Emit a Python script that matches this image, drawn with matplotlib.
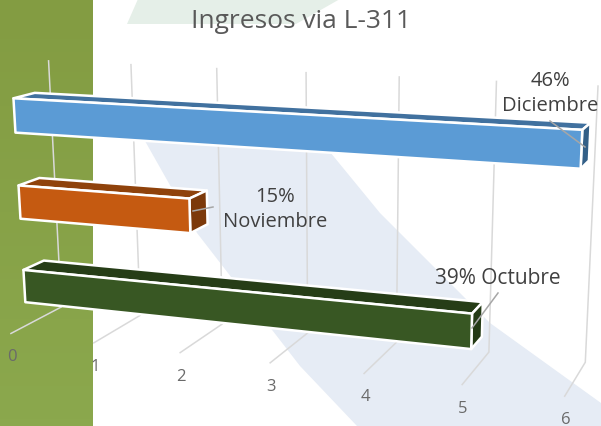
import numpy as np
import matplotlib
matplotlib.use("Agg")
import matplotlib.pyplot as plt
from matplotlib.colors import LinearSegmentedColormap
from matplotlib.patches import Polygon

categories = ["Octubre", "Noviembre", "Diciembre"]
values = [5, 2, 6]
shares = [39, 15, 46]
value_ticks = [0, 1, 2, 3, 4, 5, 6]

# pixel positions of the gridline ends, used to calibrate the 3D view
WALL_TOP = [(48, 62), (131, 66), (217, 70), (307, 74), (398, 78), (498, 82), (597, 86)]
WALL_BOTTOM = [(61, 307), (140, 316), (222, 325), (309, 335), (397, 344), (488, 352), (585, 364)]
FLOOR_FRONT = [(11, 334), (94, 344), (180, 354), (270, 364), (364, 374), (462, 386), (565, 397)]

BAR_STYLE = {
    "Octubre": dict(front="#385723", top="#263D17", side="#243A15"),
    "Noviembre": dict(front="#C55A11", top="#8F420B", side="#7C390A"),
    "Diciembre": dict(front="#5B9BD5", top="#41719F", side="#335F87"),
}
DEPTH = (0.30, 0.70)
BAR_H = 0.13
BAR_SHIFT = -0.008
FONT = "Open Sans"


def fit_camera():
    rows, rhs = [], []
    pts = []
    for v, t, b, f in zip(value_ticks, WALL_TOP, WALL_BOTTOM, FLOOR_FRONT):
        pts += [((v, 1, 1), t), ((v, 1, 0), b), ((v, 0, 0), f)]
    for (v, d, h), (x, y) in pts:
        rows.append([v, d, h, 1, 0, 0, 0, 0, -x * v, -x * d, -x * h])
        rows.append([0, 0, 0, 0, v, d, h, 1, -y * v, -y * d, -y * h])
        rhs += [x, y]
    sol = np.linalg.lstsq(np.array(rows, float), np.array(rhs, float), rcond=None)[0]
    return np.append(sol, 1.0).reshape(3, 4)


CAM = fit_camera()


def project(v, d, h):
    p = CAM @ np.array([v, d, h, 1.0])
    return p[0] / p[2], p[1] / p[2]


fig = plt.figure(figsize=(6.01, 4.27), dpi=100)
ax = fig.add_axes([0, 0, 1, 1])

# slide background
band = LinearSegmentedColormap.from_list("band", ["#839C42", "#8BA84D"])
ax.imshow(np.linspace(0, 1, 64).reshape(-1, 1), cmap=band, aspect="auto",
          extent=(0, 92.5, 427, 0), zorder=0)
ax.set_xlim(0, 601)
ax.set_ylim(427, 0)
ax.axis("off")
ax.add_patch(Polygon([(127, 25), (138, 0), (340, 0), (296, 25)], color="#E5EFE8", lw=0, zorder=0))
ax.add_patch(Polygon([(145, 142), (330, 153), (380, 214), (490, 324), (601, 404),
                      (601, 427), (357, 427), (300, 367), (197, 234)],
                     color="#E6ECF5", lw=0, zorder=0))

for v in value_ticks:
    top = project(v, 1, 1)
    bot = project(v, 1, 0)
    front = project(v, 0, 0)
    ax.plot([top[0], bot[0], front[0]], [top[1], bot[1], front[1]],
            color="#D9D9D9", lw=1.1, zorder=1, solid_joinstyle="miter")
    ax.text(front[0] + 1, front[1] + 23, str(v), ha="center", va="center",
            fontsize=12, color="#6A6A6A", family=FONT, zorder=1)

for i, (cat, val) in enumerate(zip(categories, values)):
    center = (i + 0.5) / len(categories) + BAR_SHIFT
    h0, h1 = center - BAR_H / 2, center + BAR_H / 2
    d0, d1 = DEPTH
    st = BAR_STYLE[cat]
    faces = [
        ([(0, d0, h1), (val, d0, h1), (val, d1, h1), (0, d1, h1)], st["top"]),
        ([(val, d0, h0), (val, d1, h0), (val, d1, h1), (val, d0, h1)], st["side"]),
        ([(0, d0, h0), (val, d0, h0), (val, d0, h1), (0, d0, h1)], st["front"]),
    ]
    for corners, col in faces:
        ax.add_patch(Polygon([project(*c) for c in corners], closed=True, facecolor=col,
                             edgecolor="white", lw=1.8, joinstyle="round", zorder=2 + i))

# data labels and their leader lines
ax.plot([550, 585], [122, 148], color="#A6A6A6", lw=1.1, zorder=6)
ax.plot([193, 213], [212, 208], color="#A6A6A6", lw=1.1, zorder=6)
ax.plot([498, 472], [294, 329], color="#A6A6A6", lw=1.1, zorder=6)
label_color = "#404040"
ax.text(550, 81, f"{shares[2]}%", ha="center", va="center", fontsize=14.5, color=label_color, family=FONT, zorder=7)
ax.text(550, 106, categories[2], ha="center", va="center", fontsize=14.5, color=label_color, family=FONT, zorder=7)
ax.text(275, 197, f"{shares[1]}%", ha="center", va="center", fontsize=14.5, color=label_color, family=FONT, zorder=7)
ax.text(275, 222, categories[1], ha="center", va="center", fontsize=14.5, color=label_color, family=FONT, zorder=7)
ax.text(497.5, 279, f"{shares[0]}% {categories[0]}", ha="center", va="center", fontsize=15, color=label_color, family=FONT, zorder=7)

ax.text(301, 22, "Ingresos via L-311", ha="center", va="center", fontsize=19,
        color="#595959", family=FONT, zorder=7)

fig.savefig("out.png", dpi=100)
